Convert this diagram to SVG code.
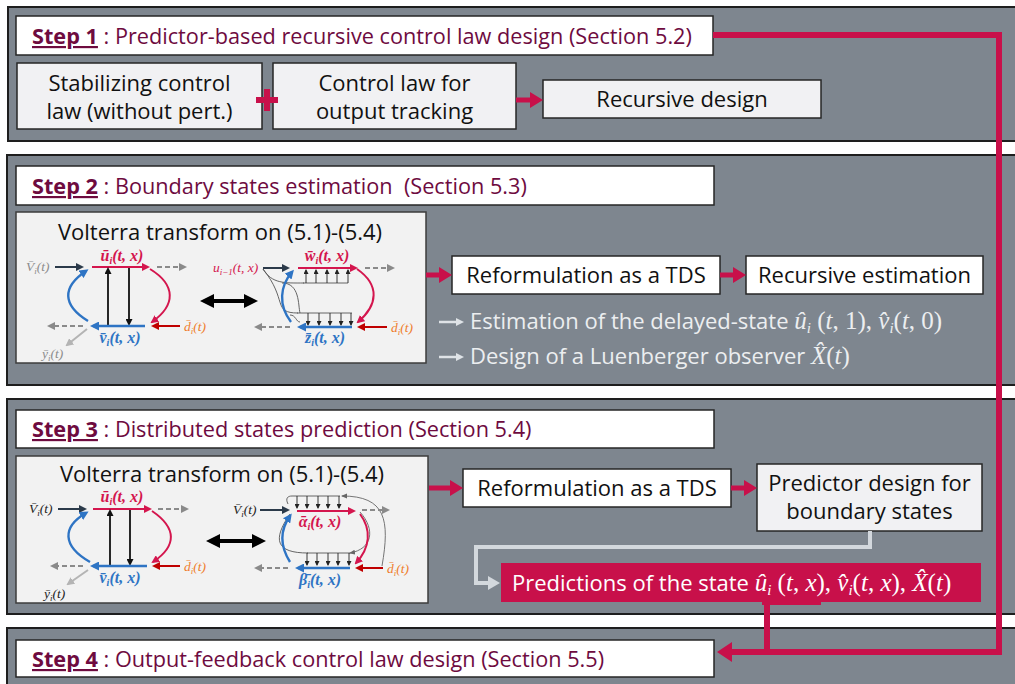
<svg xmlns="http://www.w3.org/2000/svg" width="1015" height="684" viewBox="0 0 1015 684">
<defs>
<style>
.panel{fill:#7e868f;stroke:#1e1e1e;stroke-width:2}
.wbox{fill:#ffffff;stroke:#262626;stroke-width:1.5}
.gbox{fill:#f1f1f3;stroke:#262626;stroke-width:1.5}
.vbox{fill:#f2f2f2;stroke:#3c3c3c;stroke-width:1.5}
.t{font-family:"Open Sans","Noto Sans",sans-serif;font-size:22px;fill:#111}
.step{font-family:"Open Sans","Noto Sans",sans-serif;font-size:21.7px;fill:#6e0b3f}
.stepn{font-weight:bold;text-decoration:underline}
.lt{font-family:"Open Sans","Noto Sans",sans-serif;font-size:22px;fill:#eceef0}
.m{font-family:"Liberation Serif","DejaVu Serif",serif;font-style:italic;font-size:25px}
.mu{font-family:"Liberation Serif","DejaVu Serif",serif;font-style:normal;font-size:25px}
.sub{font-family:"Liberation Serif","DejaVu Serif",serif;font-style:italic;font-size:15px}
.vt{font-family:"Open Sans","Noto Sans",sans-serif;font-size:22px;fill:#111}
.ml{font-family:"Liberation Serif","DejaVu Serif",serif;font-style:italic;font-size:16px;font-weight:bold}
.ms{font-family:"Liberation Serif","DejaVu Serif",serif;font-style:italic;font-size:13.5px}
.cred{fill:#d4164e}.cblue{fill:#2e74c4}.corg{fill:#ef7d2c}.cgray{fill:#8c8c8c}.cdark{fill:#222}
.rl{stroke:#c8104a;stroke-width:5;fill:none}
.big{stroke:#c8104a;stroke-width:6;fill:none}
.ak{stroke:#2b3a4a;stroke-width:2;fill:none;marker-end:url(#mk)}
.ar{stroke:#d4164e;stroke-width:2;fill:none;marker-end:url(#mr)}
.ab{stroke:#2e74c4;stroke-width:2.4;fill:none;marker-end:url(#mb)}
.abk{stroke:#111;stroke-width:1.8;fill:none;marker-end:url(#mbk)}
.adr{stroke:#c00000;stroke-width:2;fill:none;marker-end:url(#mdr)}
.ad{stroke:#8a8a8a;stroke-width:2;stroke-dasharray:5 3;fill:none;marker-end:url(#mg)}
.alg{stroke:#b4b4b4;stroke-width:2;fill:none;marker-end:url(#mlg)}
.thin{stroke:#555;stroke-width:0.9;fill:none}
.tarr{stroke:#222;stroke-width:0.9;fill:none;marker-end:url(#mt)}
.tga{stroke:#666;stroke-width:0.9;fill:none;marker-end:url(#mtg)}
</style>
<marker id="rh" markerUnits="userSpaceOnUse" markerWidth="14" markerHeight="16" refX="1" refY="8" orient="auto"><path d="M0,0 L13,8 L0,16 z" fill="#c8104a"/></marker>
<marker id="rhb" markerUnits="userSpaceOnUse" markerWidth="16" markerHeight="20" refX="1" refY="10" orient="auto"><path d="M0,0 L15,10 L0,20 z" fill="#c8104a"/></marker>
<marker id="gh" markerUnits="userSpaceOnUse" markerWidth="14" markerHeight="16" refX="1" refY="8" orient="auto"><path d="M0,1 L12,8 L0,15 z" fill="#d3d8dd"/></marker>
<marker id="lh" markerUnits="userSpaceOnUse" markerWidth="10" markerHeight="10" refX="1" refY="5" orient="auto"><path d="M0,1 L8,5 L0,9 z" fill="#dfe3e7"/></marker>
<marker id="mk" markerUnits="userSpaceOnUse" markerWidth="8" markerHeight="8" refX="6" refY="4" orient="auto"><path d="M0,0 L8,4 L0,8 z" fill="#2b3a4a"/></marker>
<marker id="mr" markerUnits="userSpaceOnUse" markerWidth="8" markerHeight="8" refX="6" refY="4" orient="auto"><path d="M0,0 L8,4 L0,8 z" fill="#d4164e"/></marker>
<marker id="mb" markerUnits="userSpaceOnUse" markerWidth="9" markerHeight="9" refX="6" refY="4.5" orient="auto"><path d="M0,0 L9,4.5 L0,9 z" fill="#2e74c4"/></marker>
<marker id="mbk" markerUnits="userSpaceOnUse" markerWidth="7" markerHeight="7" refX="5" refY="3.5" orient="auto"><path d="M0,0 L7,3.5 L0,7 z" fill="#111"/></marker>
<marker id="mdr" markerUnits="userSpaceOnUse" markerWidth="8" markerHeight="8" refX="6" refY="4" orient="auto"><path d="M0,0 L8,4 L0,8 z" fill="#c00000"/></marker>
<marker id="mg" markerUnits="userSpaceOnUse" markerWidth="8" markerHeight="8" refX="6" refY="4" orient="auto"><path d="M0,0 L8,4 L0,8 z" fill="#8a8a8a"/></marker>
<marker id="mlg" markerUnits="userSpaceOnUse" markerWidth="8" markerHeight="8" refX="6" refY="4" orient="auto"><path d="M0,0 L8,4 L0,8 z" fill="#b4b4b4"/></marker>
<marker id="mt" markerUnits="userSpaceOnUse" markerWidth="5" markerHeight="5" refX="4" refY="2.5" orient="auto"><path d="M0,0 L5,2.5 L0,5 z" fill="#222"/></marker>
<marker id="mtg" markerUnits="userSpaceOnUse" markerWidth="6" markerHeight="6" refX="5" refY="3" orient="auto"><path d="M0,0.5 L6,3 L0,5.5 z" fill="#666"/></marker>
<marker id="dbl" markerUnits="userSpaceOnUse" markerWidth="14" markerHeight="14" refX="2" refY="7" orient="auto-start-reverse"><path d="M0,0 L14,7 L0,14 z" fill="#000"/></marker>
</defs>

<rect width="1015" height="684" fill="#ffffff"/>

<g id="panels">
<rect class="panel" x="8" y="7" width="1020" height="134"/>
<rect class="panel" x="7" y="155" width="1021" height="230"/>
<rect class="panel" x="7" y="399" width="1021" height="215"/>
<rect class="panel" x="7" y="628" width="1021" height="70"/>
</g>

<g id="step1">
<rect class="wbox" x="16" y="16" width="697" height="39"/>
<text class="step" x="32" y="44"><tspan class="stepn">Step 1</tspan> : Predictor-based recursive control law design (Section 5.2)</text>
</g>
<g id="stabilizing">
<rect class="gbox" x="17" y="63" width="245" height="66"/>
<text class="t" text-anchor="middle" x="139.5" y="91">Stabilizing control</text>
<text class="t" text-anchor="middle" x="139.5" y="119">law (without pert.)</text>
</g>
<g id="outputTracking">
<rect class="gbox" x="273" y="63" width="243" height="66"/>
<text class="t" text-anchor="middle" x="394.5" y="91">Control law for</text>
<text class="t" text-anchor="middle" x="394.5" y="119">output tracking</text>
</g>
<g id="recursiveDesign">
<rect class="gbox" x="543" y="80" width="278" height="38"/>
<text class="t" text-anchor="middle" x="682" y="107">Recursive design</text>
</g>

<g id="step2">
<rect class="wbox" x="16" y="166" width="698" height="39"/>
<text class="step" x="32" y="194"><tspan class="stepn">Step 2</tspan> : Boundary states estimation&#160; (Section 5.3)</text>
</g>

<g id="volterra2">
<rect class="vbox" x="16" y="212" width="410" height="151"/>
<text class="vt" text-anchor="middle" x="220" y="240">Volterra transform on (5.1)-(5.4)</text>
<!-- left mini -->
<text class="ms cgray" x="26" y="271">V̄<tspan font-size="9" dy="3">i</tspan><tspan dy="-3">(t)</tspan></text>
<line class="ak" x1="55" y1="267" x2="82" y2="267"/>
<line class="ar" x1="92" y1="267" x2="148" y2="267"/>
<text class="ml cred" text-anchor="middle" x="122" y="261">ū<tspan font-size="10" dy="3">i</tspan><tspan dy="-3">(t, x)</tspan></text>
<line class="ad" x1="157" y1="267" x2="185" y2="267"/>
<line class="abk" x1="108" y1="325" x2="108" y2="269"/>
<line class="abk" x1="129" y1="268" x2="129" y2="324"/>
<line class="ab" x1="145" y1="326" x2="93" y2="326"/>
<text class="ml cblue" text-anchor="middle" x="120" y="343">v̄<tspan font-size="10" dy="3">i</tspan><tspan dy="-3">(t, x)</tspan></text>
<path class="ab" d="M88,321 C62,305 62,287 86,271"/>
<path class="ar" d="M150,269 C176,285 176,305 152,322"/>
<line class="adr" x1="180" y1="326" x2="153" y2="326"/>
<text class="ms corg" x="184" y="331">d̄<tspan font-size="9" dy="3">i</tspan><tspan dy="-3">(t)</tspan></text>
<line class="ad" x1="83" y1="326" x2="49" y2="326"/>
<line class="alg" x1="87" y1="329" x2="67" y2="345"/>
<text class="ms cgray" x="42" y="358">ȳ<tspan font-size="9" dy="3">i</tspan><tspan dy="-3">(t)</tspan></text>
<line x1="212" y1="301" x2="246" y2="301" stroke="#000" stroke-width="4" marker-start="url(#dbl)" marker-end="url(#dbl)"/>
<!-- right mini -->
<text class="ms cred" x="213" y="272">u<tspan font-size="9" dy="3">i−1</tspan><tspan dy="-3">(t, x)</tspan></text>
<line class="ak" x1="263" y1="268" x2="288" y2="268"/>
<path class="thin" d="M263,269 C272,284 285,283 304,283"/>
<path class="thin" d="M263,269 C288,300 272,313 298,313"/>
<path class="thin" d="M282,283 C300,283 298,305 300,313"/>
<path class="thin" d="M290,315 C296,315 296,322 300,322"/>
<line class="ar" x1="298" y1="268" x2="356" y2="268"/>
<text class="ml cred" text-anchor="middle" x="327" y="261">w̄<tspan font-size="10" dy="3">i</tspan><tspan dy="-3">(t, x)</tspan></text>
<line class="thin" x1="303" y1="283" x2="348" y2="283"/>
<line class="tarr" x1="306" y1="283" x2="306" y2="270"/>
<line class="tarr" x1="316" y1="283" x2="316" y2="270"/>
<line class="tarr" x1="327" y1="283" x2="327" y2="270"/>
<line class="tarr" x1="337" y1="283" x2="337" y2="270"/>
<line class="tarr" x1="348" y1="283" x2="348" y2="270"/>
<line class="thin" x1="297" y1="313" x2="352" y2="313"/>
<line class="tarr" x1="308" y1="313" x2="308" y2="325"/>
<line class="tarr" x1="319" y1="313" x2="319" y2="325"/>
<line class="tarr" x1="330" y1="313" x2="330" y2="325"/>
<line class="tarr" x1="341" y1="313" x2="341" y2="325"/>
<line class="tarr" x1="351" y1="313" x2="351" y2="325"/>
<line class="ab" x1="352" y1="327" x2="300" y2="327"/>
<text class="ml cblue" text-anchor="middle" x="325" y="343">z̄<tspan font-size="10" dy="3">i</tspan><tspan dy="-3">(t, x)</tspan></text>
<path class="ab" d="M291,322 C278,305 280,286 292,272"/>
<path class="ar" d="M357,269 C380,285 378,305 358,322"/>
<line class="ad" x1="365" y1="268" x2="393" y2="268"/>
<line class="adr" x1="387" y1="327" x2="359" y2="327"/>
<text class="ms corg" x="391" y="332">d̄<tspan font-size="9" dy="3">i</tspan><tspan dy="-3">(t)</tspan></text>
<line class="ad" x1="290" y1="327" x2="256" y2="327"/>
</g>

<g id="reform2">
<rect class="wbox" x="452" y="256" width="268" height="38"/>
<text class="t" text-anchor="middle" x="586" y="283">Reformulation as a TDS</text>
</g>
<g id="recEst">
<rect class="wbox" x="746" y="256" width="237" height="38"/>
<text class="t" text-anchor="middle" x="864.5" y="283">Recursive estimation</text>
</g>
<g id="notes2">
<line x1="439" y1="322" x2="457" y2="322" stroke="#dfe3e7" stroke-width="2.5" marker-end="url(#lh)"/>
<text class="lt" x="470" y="329">Estimation of the delayed-state <tspan class="m">û</tspan><tspan class="sub" dy="4">i</tspan><tspan class="mu" dy="-4">  (</tspan><tspan class="m">t</tspan><tspan class="mu">, 1), </tspan><tspan class="m">v̂</tspan><tspan class="sub" dy="4">i</tspan><tspan class="mu" dy="-4">(</tspan><tspan class="m">t</tspan><tspan class="mu">, 0)</tspan></text>
<line x1="439" y1="357" x2="457" y2="357" stroke="#dfe3e7" stroke-width="2.5" marker-end="url(#lh)"/>
<text class="lt" x="470" y="364">Design of a Luenberger observer <tspan class="m">X̂</tspan><tspan class="mu">(</tspan><tspan class="m">t</tspan><tspan class="mu">)</tspan></text>
</g>

<g id="step3">
<rect class="wbox" x="16" y="410" width="698" height="38"/>
<text class="step" x="32" y="437"><tspan class="stepn">Step 3</tspan> : Distributed states prediction (Section 5.4)</text>
</g>

<g id="volterra3">
<rect class="vbox" x="16" y="456" width="412" height="147"/>
<text class="vt" text-anchor="middle" x="222" y="482">Volterra transform on (5.1)-(5.4)</text>
<!-- left mini -->
<text class="ms cdark" x="29" y="513">V̄<tspan font-size="9" dy="3">i</tspan><tspan dy="-3">(t)</tspan></text>
<line class="ak" x1="58" y1="509" x2="85" y2="509"/>
<line class="ar" x1="93" y1="509" x2="150" y2="509"/>
<text class="ml cred" text-anchor="middle" x="122" y="502">ū<tspan font-size="10" dy="3">i</tspan><tspan dy="-3">(t, x)</tspan></text>
<line class="ad" x1="158" y1="509" x2="187" y2="509"/>
<line class="abk" x1="110" y1="566" x2="110" y2="511"/>
<line class="abk" x1="130" y1="510" x2="130" y2="564"/>
<line class="ab" x1="147" y1="566" x2="93" y2="566"/>
<text class="ml cblue" text-anchor="middle" x="120" y="583">v̄<tspan font-size="10" dy="3">i</tspan><tspan dy="-3">(t, x)</tspan></text>
<path class="ab" d="M90,562 C62,546 62,527 86,513"/>
<path class="ar" d="M152,511 C177,528 177,546 153,562"/>
<line class="adr" x1="180" y1="566" x2="154" y2="566"/>
<text class="ms corg" x="184" y="571">d̄<tspan font-size="9" dy="3">i</tspan><tspan dy="-3">(t)</tspan></text>
<line class="ad" x1="83" y1="566" x2="52" y2="566"/>
<line class="alg" x1="88" y1="570" x2="68" y2="584"/>
<text class="ms cdark" x="44" y="598">ȳ<tspan font-size="9" dy="3">i</tspan><tspan dy="-3">(t)</tspan></text>
<line x1="218" y1="541" x2="254" y2="541" stroke="#000" stroke-width="4" marker-start="url(#dbl)" marker-end="url(#dbl)"/>
<!-- right mini -->
<text class="ms cdark" x="233" y="514">V̄<tspan font-size="9" dy="3">i</tspan><tspan dy="-3">(t)</tspan></text>
<line class="ak" x1="260" y1="510" x2="288" y2="510"/>
<path class="thin" d="M288,504 C285,498 288,496 292,496"/>
<line class="thin" x1="292" y1="496" x2="340" y2="496"/>
<line class="tarr" x1="297" y1="496" x2="297" y2="508"/>
<line class="tarr" x1="307" y1="496" x2="307" y2="508"/>
<line class="tarr" x1="318" y1="496" x2="318" y2="508"/>
<line class="tarr" x1="328" y1="496" x2="328" y2="508"/>
<line class="tarr" x1="339" y1="496" x2="339" y2="508"/>
<path class="tga" d="M382,566 C390,520 386,496 342,496"/>
<path class="tga" d="M360,512 C376,530 372,549 350,553"/>
<path class="thin" d="M290,514 C272,540 276,553 308,553"/>
<line class="thin" x1="307" y1="553" x2="350" y2="553"/>
<line class="tarr" x1="307" y1="553" x2="307" y2="565"/>
<line class="tarr" x1="317" y1="553" x2="317" y2="565"/>
<line class="tarr" x1="328" y1="553" x2="328" y2="565"/>
<line class="tarr" x1="338" y1="553" x2="338" y2="565"/>
<line class="tarr" x1="349" y1="553" x2="349" y2="565"/>
<line class="ar" x1="297" y1="511" x2="354" y2="511"/>
<text class="ml cred" text-anchor="middle" x="320" y="527">ᾱ<tspan font-size="10" dy="3">i</tspan><tspan dy="-3">(t, x)</tspan></text>
<line class="ab" x1="350" y1="568" x2="298" y2="568"/>
<text class="ml cblue" text-anchor="middle" x="320" y="585">β̄<tspan font-size="10" dy="3">i</tspan><tspan dy="-3">(t, x)</tspan></text>
<path class="ab" d="M290,562 C280,546 280,530 290,516"/>
<path class="ar" d="M360,514 C372,530 370,548 356,563"/>
<line class="ad" x1="362" y1="510" x2="388" y2="510"/>
<line class="adr" x1="383" y1="568" x2="357" y2="568"/>
<text class="ms corg" x="387" y="573">d̄<tspan font-size="9" dy="3">i</tspan><tspan dy="-3">(t)</tspan></text>
<line class="ad" x1="288" y1="568" x2="256" y2="568"/>
</g>

<g id="reform3">
<rect class="wbox" x="463" y="469" width="268" height="38"/>
<text class="t" text-anchor="middle" x="597" y="496">Reformulation as a TDS</text>
</g>
<g id="predictor">
<rect class="gbox" x="757" y="464" width="225" height="67"/>
<text class="t" text-anchor="middle" x="869.5" y="491">Predictor design for</text>
<text class="t" text-anchor="middle" x="869.5" y="519">boundary states</text>
</g>
<g id="predictions">
<rect x="501" y="563" width="480" height="39" fill="#c8104a"/>
<rect x="762" y="600" width="59" height="5" fill="#c8104a"/>
<text class="t" x="512" y="591" style="fill:#fff">Predictions of the state <tspan class="m">û</tspan><tspan class="sub" dy="4">i</tspan><tspan class="mu" dy="-4">  (</tspan><tspan class="m">t</tspan><tspan class="mu">, </tspan><tspan class="m">x</tspan><tspan class="mu">), </tspan><tspan class="m">v̂</tspan><tspan class="sub" dy="4">i</tspan><tspan class="mu" dy="-4">(</tspan><tspan class="m">t</tspan><tspan class="mu">, </tspan><tspan class="m">x</tspan><tspan class="mu">), </tspan><tspan class="m">X̂</tspan><tspan class="mu">(</tspan><tspan class="m">t</tspan><tspan class="mu">)</tspan></text>
</g>

<g id="step4">
<rect class="wbox" x="16" y="640" width="698" height="37"/>
<text class="step" x="32" y="667"><tspan class="stepn">Step 4</tspan> : Output-feedback control law design (Section 5.5)</text>
</g>

<g id="connectors">
<path class="big" d="M713,35 H999 V652 H731" marker-end="url(#rhb)"/>
<path class="big" d="M767,603 V652"/>
<rect x="264" y="89" width="6" height="22" fill="#c8104a"/>
<rect x="256" y="97" width="22" height="6" fill="#c8104a"/>
<line class="rl" x1="516" y1="100" x2="531" y2="100" marker-end="url(#rh)"/>
<line class="rl" x1="426" y1="275" x2="440" y2="275" marker-end="url(#rh)"/>
<line class="rl" x1="720" y1="275" x2="734" y2="275" marker-end="url(#rh)"/>
<line class="rl" x1="429" y1="488" x2="451" y2="488" marker-end="url(#rh)"/>
<line class="rl" x1="731" y1="488" x2="745" y2="488" marker-end="url(#rh)"/>
<path d="M870,531 V547 H476 V583 H489" stroke="#d3d8dd" stroke-width="4" fill="none" marker-end="url(#gh)"/>
</g>
</svg>
